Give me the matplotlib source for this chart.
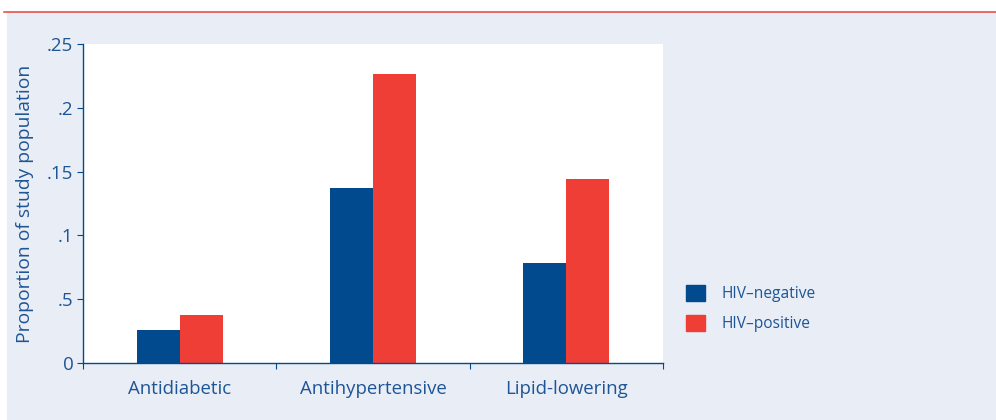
import matplotlib.pyplot as plt
from matplotlib.patches import Rectangle, Patch
from matplotlib.lines import Line2D
import numpy as np

categories = ["Antidiabetic", "Antihypertensive", "Lipid-lowering"]
hiv_negative = [0.026, 0.137, 0.078]
hiv_positive = [0.0375, 0.2265, 0.144]
ytick_values = [0, 0.05, 0.1, 0.15, 0.2, 0.25]
ytick_labels = ["0", ".5", ".1", ".15", ".2", ".25"]
series_labels = ["HIV\u2013negative", "HIV\u2013positive"]

NAVY = "#004a8d"
RED = "#ef3e36"
TEXT = "#1d5596"
BG = "#e9edf5"

plt.rcParams["font.family"] = ["Open Sans", "DejaVu Sans"]

fig = plt.figure(figsize=(9.96, 4.2), dpi=100)
fig.patch.set_facecolor("white")
fig.patches.append(Rectangle((7 / 996, 0), 1, (420 - 12) / 420,
                             transform=fig.transFigure, color=BG, zorder=-10))
fig.lines.append(Line2D([4 / 996, 1], [(420 - 11.5) / 420] * 2,
                        transform=fig.transFigure, color="#e8423a", lw=1.1))

ax = fig.add_axes([83 / 996, 57 / 420, 580 / 996, 319 / 420])
ax.set_facecolor("white")

x = np.arange(len(categories))
w = 0.222
ax.bar(x - w / 2, hiv_negative, w, color=NAVY, label=series_labels[0])
ax.bar(x + w / 2, hiv_positive, w, color=RED, label=series_labels[1])

ax.set_xlim(-0.5, len(categories) - 0.5)
ax.set_ylim(0, 0.25)
for side in ["top", "right"]:
    ax.spines[side].set_visible(False)
for side in ["left", "bottom"]:
    ax.spines[side].set_color(NAVY)
    ax.spines[side].set_linewidth(1.0)

ax.set_yticks(ytick_values)
ax.set_yticklabels(ytick_labels)
ax.set_xticks(np.arange(len(categories) + 1) - 0.5)
ax.set_xticklabels([])
ax.set_xticks(x, minor=True)
ax.set_xticklabels(categories, minor=True)
ax.tick_params(axis="x", which="major", length=4, color=NAVY)
ax.tick_params(axis="x", which="minor", length=0, pad=12, labelsize=13.4, labelcolor=TEXT)
ax.tick_params(axis="y", length=4, color=NAVY, labelsize=13.5, labelcolor=TEXT, pad=3)
ax.set_ylabel("Proportion of study population", color=TEXT, fontsize=13.9, labelpad=9)

handles = [Patch(color=NAVY), Patch(color=RED)]
fig.legend(handles, series_labels, loc="upper left", bbox_to_anchor=(686 / 996, 1 - 285 / 420),
           frameon=False, fontsize=11.2, labelcolor=TEXT, handlelength=1.25, handleheight=1.25,
           handletextpad=1.0, labelspacing=0.8, borderpad=0, borderaxespad=0)

fig.savefig("out.png", dpi=100, facecolor=fig.get_facecolor())
